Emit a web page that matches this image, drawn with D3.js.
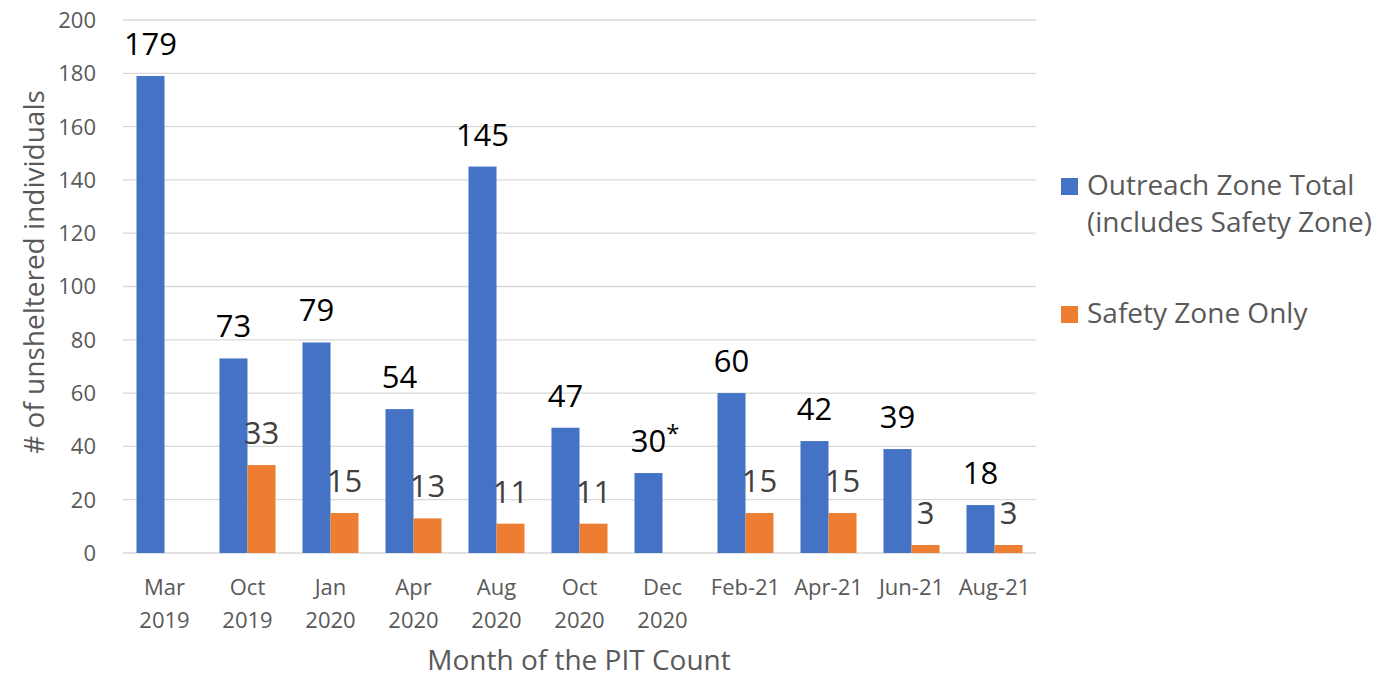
<!DOCTYPE html>
<html>
<head>
<meta charset="utf-8">
<script src="https://cdn.jsdelivr.net/npm/d3@7"></script>
<style>
  body { margin: 0; background: #fff; }
  svg  { display: block; font-family: "Open Sans", "Noto Sans", sans-serif; }
</style>
</head>
<body>
<div id="chart"></div>
<script>
// chart data
var months      = ["Mar 2019", "Oct 2019", "Jan 2020", "Apr 2020", "Aug 2020", "Oct 2020",
                   "Dec 2020", "Feb-21", "Apr-21", "Jun-21", "Aug-21"];
var monthLines  = [["Mar", "2019"], ["Oct", "2019"], ["Jan", "2020"], ["Apr", "2020"], ["Aug", "2020"],
                   ["Oct", "2020"], ["Dec", "2020"], ["Feb-21"], ["Apr-21"], ["Jun-21"], ["Aug-21"]];
var outreach    = [179, 73, 79, 54, 145, 47, 30, 60, 42, 39, 18];
var safety      = [null, 33, 15, 13, 11, 11, null, 15, 15, 3, 3];
var notes       = ["", "", "", "", "", "", "*", "", "", "", ""];
var yTicks      = [0, 20, 40, 60, 80, 100, 120, 140, 160, 180, 200];
var seriesNames = ["Outreach Zone Total", "Safety Zone Only"];
var legendLines = [["Outreach Zone Total", "(includes Safety Zone)"], ["Safety Zone Only"]];
var colors      = ["#4472C4", "#ED7D31"];
var labelColors = ["#000000", "#404040"];

var width  = 1375;
var height = 678;

var svg = d3.select("#chart").append("svg")
  .attr("width", width)
  .attr("height", height);

var x = d3.scaleBand()
  .domain(months)
  .range([123, 1036])
  .paddingInner(0.325)
  .paddingOuter(0.1625);

var xSub = d3.scaleBand()
  .domain(seriesNames)
  .range([0, x.bandwidth()]);

var y = d3.scaleLinear()
  .domain([0, 200])
  .range([553, 20]);

// gridlines
svg.append("g")
  .selectAll("line")
  .data(yTicks)
  .join("line")
  .attr("x1", 123)
  .attr("x2", 1036)
  .attr("y1", function (d) { return y(d); })
  .attr("y2", function (d) { return y(d); })
  .attr("stroke", "#d9d9d9")
  .attr("stroke-width", 1.3);

// y tick labels
svg.append("g")
  .selectAll("text")
  .data(yTicks)
  .join("text")
  .attr("x", 96)
  .attr("y", function (d) { return y(d); })
  .attr("dy", "0.36em")
  .attr("text-anchor", "end")
  .attr("font-size", 22)
  .attr("fill", "#595959")
  .text(function (d) { return d; });

// x tick labels
var xt = svg.append("g")
  .selectAll("text")
  .data(months)
  .join("text")
  .attr("text-anchor", "middle")
  .attr("font-size", 22)
  .attr("fill", "#595959")
  .attr("transform", function (d) { return "translate(" + (x(d) + x.bandwidth() / 2) + ",595)"; });

xt.selectAll("tspan")
  .data(function (d, i) { return monthLines[i]; })
  .join("tspan")
  .attr("x", 0)
  .attr("y", function (d, i) { return i * 33; })
  .text(function (d) { return d; });

// bars
var series = [outreach, safety];

series.forEach(function (values, s) {
  var g = svg.append("g");
  var pts = months.map(function (m, i) { return { m: m, v: values[i], note: notes[i] }; })
    .filter(function (d) { return d.v !== null; });

  g.selectAll("rect")
    .data(pts)
    .join("rect")
    .attr("x", function (d) { return x(d.m) + xSub(seriesNames[s]); })
    .attr("y", function (d) { return y(d.v); })
    .attr("width", xSub.bandwidth())
    .attr("height", function (d) { return y(0) - y(d.v); })
    .attr("fill", colors[s]);

  var labels = g.selectAll("text.val")
    .data(pts)
    .join("text")
    .attr("class", "val")
    .attr("x", function (d) { return x(d.m) + xSub(seriesNames[s]) + xSub.bandwidth() / 2; })
    .attr("y", function (d) { return y(d.v) - 21; })
    .attr("text-anchor", "middle")
    .attr("font-size", 31)
    .attr("fill", labelColors[s])
    .text(function (d) { return d.v; });

  // superscript notes like the asterisk on Dec 2020
  labels.each(function (d) {
    if (!d.note || s !== 0) return;
    var bb = this.getBBox();
    g.append("text")
      .attr("x", bb.x + bb.width)
      .attr("y", y(d.v) - 31)
      .attr("font-size", 24)
      .attr("fill", labelColors[s])
      .text(d.note);
  });
});

// axis titles
svg.append("text")
  .attr("x", 579)
  .attr("y", 670)
  .attr("text-anchor", "middle")
  .attr("font-size", 28)
  .attr("fill", "#595959")
  .text("Month of the PIT Count");

svg.append("text")
  .attr("transform", "translate(44,272) rotate(-90)")
  .attr("text-anchor", "middle")
  .attr("font-size", 28)
  .attr("fill", "#595959")
  .text("# of unsheltered individuals");

// legend
var legendY = [178, 306];
var legend = svg.append("g")
  .selectAll("g")
  .data(seriesNames)
  .join("g")
  .attr("transform", function (d, i) { return "translate(1061," + legendY[i] + ")"; });

legend.append("rect")
  .attr("width", 17)
  .attr("height", 17)
  .attr("fill", function (d, i) { return colors[i]; });

legend.append("text")
  .attr("font-size", 28)
  .attr("fill", "#595959")
  .selectAll("tspan")
  .data(function (d, i) { return legendLines[i]; })
  .join("tspan")
  .attr("x", 26)
  .attr("y", function (d, i) { return 17 + i * 37; })
  .text(function (d) { return d; });
</script>
</body>
</html>
